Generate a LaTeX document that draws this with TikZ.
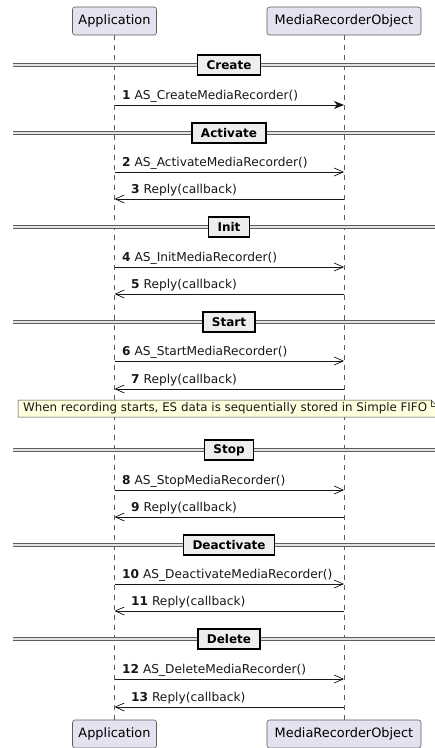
\documentclass[tikz,border=0pt]{standalone}
\usepackage{fontspec}
\setmainfont{DejaVu Sans}
\usetikzlibrary{arrows.meta}
\definecolor{ink}{HTML}{181818}
\definecolor{partfill}{HTML}{E2E2F0}
\definecolor{notefill}{HTML}{FEFFDD}
\definecolor{sepfill}{HTML}{EEEEEE}
\tikzset{
  participant/.style={draw=ink!70, fill=partfill, line width=0.6pt, rounded corners=2.5pt,
    minimum height=28pt, inner sep=0pt, font=\fontsize{12.9}{15}\selectfont},
  lifeline/.style={draw=ink!70, line width=0.5pt, dash pattern=on 5pt off 5pt},
  callarrow/.style={draw=ink, line width=0.8pt, -{Stealth[length=10pt,width=8pt,inset=3pt]}},
  asyncarrow/.style={draw=ink, line width=0.8pt, -{Straight Barb[length=9pt,width=8pt,line width=0.7pt]}},
  msglabel/.style={anchor=base west, inner sep=0pt, text=ink, font=\fontsize{12.2}{14}\selectfont},
  sepline/.style={draw=ink!70, line width=0.8pt, double=ink!12, double distance=1.6pt},
  sepbox/.style={draw=black, fill=sepfill, line width=1.6pt, minimum height=20pt,
    inner xsep=9pt, inner ysep=0pt, font=\bfseries\fontsize{12}{14}\selectfont},
  notebox/.style={draw=ink!80, fill=notefill, line width=0.5pt},
}
% section separator: name, y, title
\newcommand\sepbar[3]{%
  \coordinate (#1L) at (13,#2); \coordinate (#1R) at (440,#2);
  \draw[sepline] (#1L) -- (#1R);
  \node[sepbox] (#1) at (229,#2) {#3};}
% request from Application to MediaRecorderObject: number, y, text, style
\newcommand\request[4]{%
  \coordinate (a#1) at (appT.south |- 0,#2); \coordinate (m#1) at (mroT.south |- 0,#2);
  \draw[#4] (a#1) -- (m#1);
  \node[msglabel] (lab#1) at (122,#2-6) {\textbf{#1} #3};}
% reply from MediaRecorderObject to Application: number, y, text
\newcommand\reply[3]{%
  \coordinate (a#1) at (appT.south |- 0,#2); \coordinate (m#1) at (mroT.south |- 0,#2);
  \draw[asyncarrow] (m#1) -- (a#1);
  \node[msglabel] (lab#1) at (131,#2-6) {\textbf{#1} #3};}
\begin{document}
\begin{tikzpicture}[x=1pt,y=-1pt]
\useasboundingbox (0,0) rectangle (435,748);
\fill[white] (0,0) rectangle (435,748);

% participants
\node[participant, minimum width=84pt] (appT) at (114.5,21) {Application};
\node[participant, minimum width=154pt] (mroT) at (344,21) {MediaRecorderObject};
\node[participant, minimum width=84pt] (appB) at (114.5,734) {Application};
\node[participant, minimum width=154pt] (mroB) at (344,734) {MediaRecorderObject};

% lifelines
\draw[lifeline] (appT) -- (appB);
\draw[lifeline] (mroT) -- (mroB);

\sepbar{create}{65}{Create}
\request{1}{105}{AS\_CreateMediaRecorder()}{callarrow}

\sepbar{activate}{133}{Activate}
\request{2}{172}{AS\_ActivateMediaRecorder()}{asyncarrow}
\reply{3}{199}{Reply(callback)}

\sepbar{init}{227}{Init}
\request{4}{267}{AS\_InitMediaRecorder()}{asyncarrow}
\reply{5}{294}{Reply(callback)}

\sepbar{start}{322}{Start}
\request{6}{361}{AS\_StartMediaRecorder()}{asyncarrow}
\reply{7}{389}{Reply(callback)}

% note spanning both lifelines
\draw[notebox] (18,400) -- (431,400) -- (437,406) -- (437,417) -- (18,417) -- cycle;
\draw[ink!80, line width=0.5pt] (431,400) -- (431,406) -- (437,406);
\node[anchor=west, inner sep=0pt, text=ink, font=\fontsize{11.85}{14}\selectfont] (note) at (23,408.5)
  {When recording starts, ES data is sequentially stored in Simple FIFO};

\sepbar{stop}{450}{Stop}
\request{8}{490}{AS\_StopMediaRecorder()}{asyncarrow}
\reply{9}{517}{Reply(callback)}

\sepbar{deactivate}{545}{Deactivate}
\request{10}{584}{AS\_DeactivateMediaRecorder()}{asyncarrow}
\reply{11}{611}{Reply(callback)}

\sepbar{delete}{639}{Delete}
\request{12}{679}{AS\_DeleteMediaRecorder()}{asyncarrow}
\reply{13}{707}{Reply(callback)}
\end{tikzpicture}
\end{document}
